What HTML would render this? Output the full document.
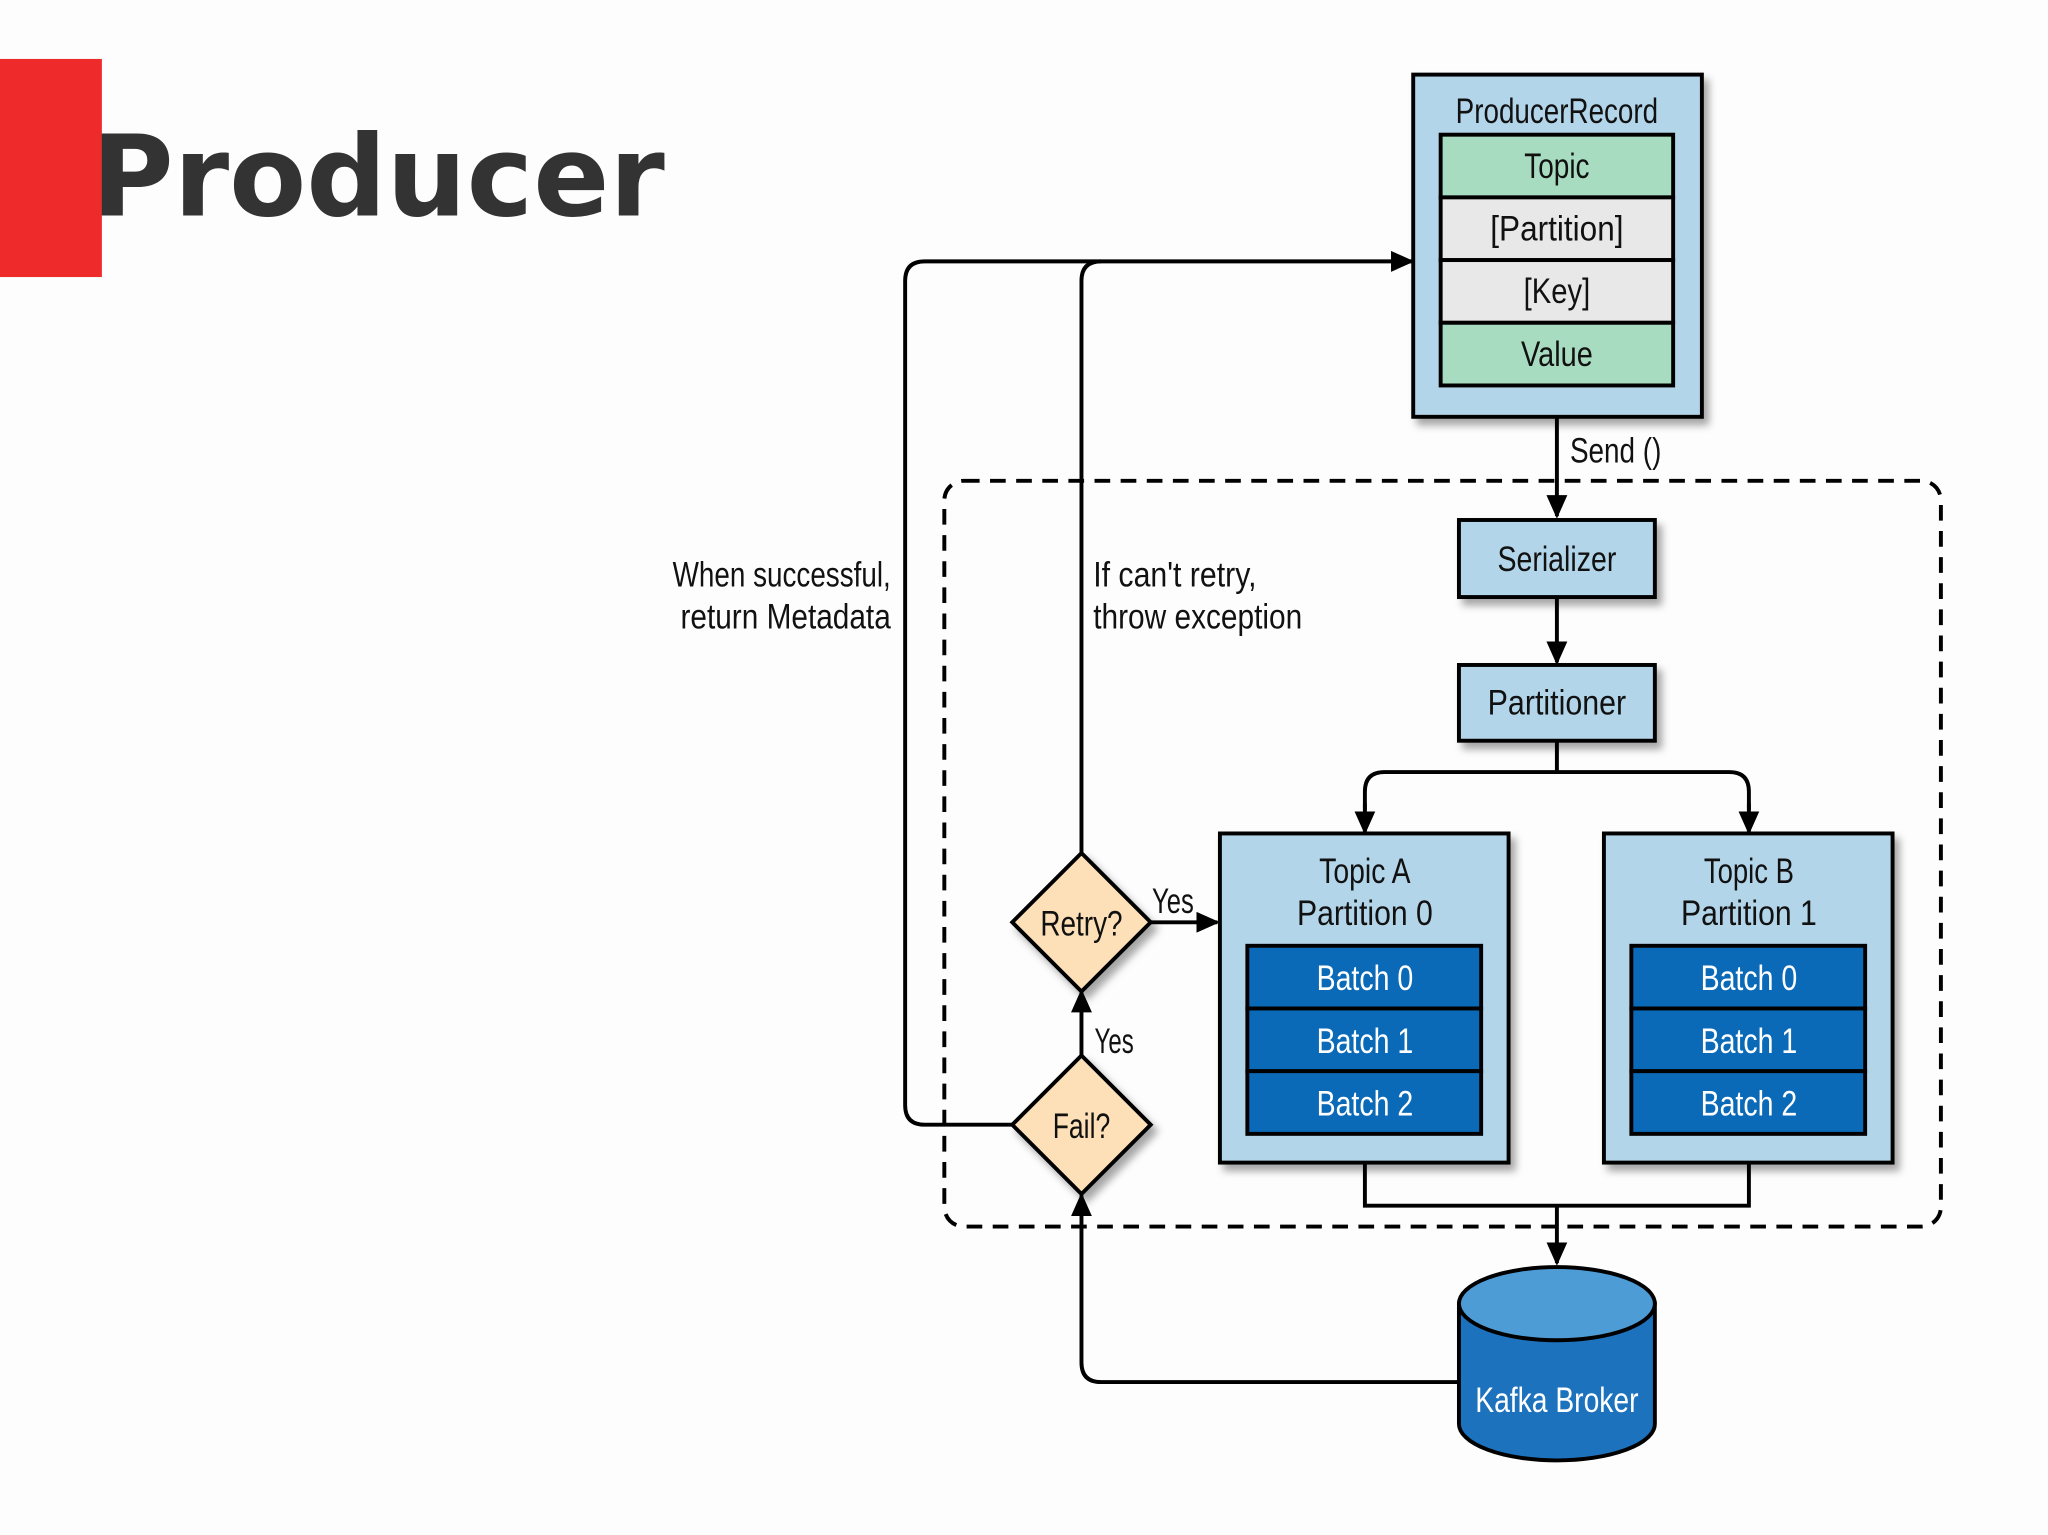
<!DOCTYPE html>
<html><head><meta charset="utf-8"><style>html,body{margin:0;padding:0;background:#fdfdfd}svg{display:block}</style></head><body>
<svg width="2048" height="1535" viewBox="0 0 1568 1175" xmlns="http://www.w3.org/2000/svg">
<defs>
<marker id="a" markerWidth="18" markerHeight="16" refX="16" refY="8" orient="auto" markerUnits="userSpaceOnUse" viewBox="0 0 18 16"><path d="M0,0L18,8L0,16z" fill="#000"/></marker>
<filter id="s" x="-10%" y="-10%" width="130%" height="130%"><feDropShadow dx="4" dy="5" stdDeviation="3" flood-color="#000" flood-opacity="0.35"/></filter>
</defs>
<style>text{font-family:"Liberation Sans",sans-serif;font-size:27px;fill:#111;text-anchor:middle}text.w{fill:#fff}text.l{text-anchor:start}text.r{text-anchor:end}</style>
<rect x="0" y="45" width="78" height="167" fill="#ee2a2b"/>
<text x="70" y="165" style="font-family:'DejaVu Sans',sans-serif;font-weight:bold;font-size:86px;text-anchor:start;fill:#333">Producer</text>

<rect x="723" y="368" width="763" height="571" rx="15" fill="none" stroke="#000" stroke-width="3" stroke-dasharray="12,8"/>

<g stroke="#000" stroke-width="3" fill="none">
<path d="M1192 319V395" marker-end="url(#a)"/>
<path d="M1192 457V507" marker-end="url(#a)"/>
<path d="M1192 567V591M1045 620V606q0-15 15-15H1324q15 0 15 15V620" />
<path d="M1045 615V637" marker-end="url(#a)"/><path d="M1339 615V637" marker-end="url(#a)"/>
<path d="M1045 890V923H1339V890M1192 923V967" marker-end="url(#a)"/>
<path d="M1117 1058H843q-15 0-15-15V915" marker-end="url(#a)"/>
<path d="M828 808V759" marker-end="url(#a)"/>
<path d="M881 706H932" marker-end="url(#a)"/>
<path d="M828 653V215q0-15 15-15H1081" marker-end="url(#a)"/>
<path d="M775 861H708q-15 0-15-15V215q0-15 15-15H843"/>
</g>

<g filter="url(#s)">
<rect x="1082" y="57" width="221" height="262" fill="#b3d5ea" stroke="#000" stroke-width="3"/>
<rect x="1117" y="398" width="150" height="59" fill="#b3d5ea" stroke="#000" stroke-width="3"/>
<rect x="1117" y="509" width="150" height="58" fill="#b3d5ea" stroke="#000" stroke-width="3"/>
<rect x="934" y="638" width="221" height="252" fill="#b3d5ea" stroke="#000" stroke-width="3"/>
<rect x="1228" y="638" width="221" height="252" fill="#b3d5ea" stroke="#000" stroke-width="3"/>
<path d="M775 706L828 653L881 706L828 759Z" fill="#fde0b8" stroke="#000" stroke-width="3"/>
<path d="M775 861L828 808L881 861L828 914Z" fill="#fde0b8" stroke="#000" stroke-width="3"/>
</g>
<g stroke="#000" stroke-width="3">
<rect x="1103" y="103" width="178" height="48" fill="#a8dcc0"/>
<rect x="1103" y="151" width="178" height="48" fill="#e8e8e8"/>
<rect x="1103" y="199" width="178" height="48" fill="#e8e8e8"/>
<rect x="1103" y="247" width="178" height="48" fill="#a8dcc0"/>
<rect x="955" y="724" width="179" height="48" fill="#0b6ab8"/>
<rect x="955" y="772" width="179" height="48" fill="#0b6ab8"/>
<rect x="955" y="820" width="179" height="48" fill="#0b6ab8"/>
<rect x="1249" y="724" width="179" height="48" fill="#0b6ab8"/>
<rect x="1249" y="772" width="179" height="48" fill="#0b6ab8"/>
<rect x="1249" y="820" width="179" height="48" fill="#0b6ab8"/>
<path d="M1117 998V1090A75 28 0 0 0 1267 1090V998Z" fill="#1c72bd"/>
<ellipse cx="1192" cy="998" rx="75" ry="28" fill="#4e9cd5"/>
</g>

<g lengthAdjust="spacingAndGlyphs">
<text x="1192" y="94" textLength="155" lengthAdjust="spacingAndGlyphs">ProducerRecord</text>
<text x="1192" y="136" textLength="50" lengthAdjust="spacingAndGlyphs">Topic</text>
<text x="1192" y="184" textLength="102" lengthAdjust="spacingAndGlyphs">[Partition]</text>
<text x="1192" y="232" textLength="51" lengthAdjust="spacingAndGlyphs">[Key]</text>
<text x="1192" y="280" textLength="55" lengthAdjust="spacingAndGlyphs">Value</text>
<text class="l" x="1202" y="354" textLength="70" lengthAdjust="spacingAndGlyphs">Send ()</text>
<text x="1192" y="437" textLength="91" lengthAdjust="spacingAndGlyphs">Serializer</text>
<text x="1192" y="547" textLength="106" lengthAdjust="spacingAndGlyphs">Partitioner</text>
<text x="1045" y="676" textLength="70" lengthAdjust="spacingAndGlyphs">Topic A</text>
<text x="1045" y="708" textLength="104" lengthAdjust="spacingAndGlyphs">Partition 0</text>
<text x="1339" y="676" textLength="69" lengthAdjust="spacingAndGlyphs">Topic B</text>
<text x="1339" y="708" textLength="104" lengthAdjust="spacingAndGlyphs">Partition 1</text>
<text class="w" x="1045" y="758" textLength="74" lengthAdjust="spacingAndGlyphs">Batch 0</text>
<text class="w" x="1045" y="806" textLength="74" lengthAdjust="spacingAndGlyphs">Batch 1</text>
<text class="w" x="1045" y="854" textLength="74" lengthAdjust="spacingAndGlyphs">Batch 2</text>
<text class="w" x="1339" y="758" textLength="74" lengthAdjust="spacingAndGlyphs">Batch 0</text>
<text class="w" x="1339" y="806" textLength="74" lengthAdjust="spacingAndGlyphs">Batch 1</text>
<text class="w" x="1339" y="854" textLength="74" lengthAdjust="spacingAndGlyphs">Batch 2</text>
<text class="w" x="1192" y="1081" textLength="125" lengthAdjust="spacingAndGlyphs">Kafka Broker</text>
<text x="828" y="716" textLength="63" lengthAdjust="spacingAndGlyphs">Retry?</text>
<text x="828" y="871" textLength="44" lengthAdjust="spacingAndGlyphs">Fail?</text>
<text class="l" x="882" y="699" textLength="32" lengthAdjust="spacingAndGlyphs">Yes</text>
<text class="l" x="838" y="806" textLength="30" lengthAdjust="spacingAndGlyphs">Yes</text>
<text class="l" x="515" y="449" textLength="167" lengthAdjust="spacingAndGlyphs">When successful,</text>
<text class="l" x="521" y="481" textLength="161" lengthAdjust="spacingAndGlyphs">return Metadata</text>
<text class="l" x="837" y="449" textLength="125" lengthAdjust="spacingAndGlyphs">If can't retry,</text>
<text class="l" x="837" y="481" textLength="160" lengthAdjust="spacingAndGlyphs">throw exception</text>
</g>
</svg>
</body></html>
